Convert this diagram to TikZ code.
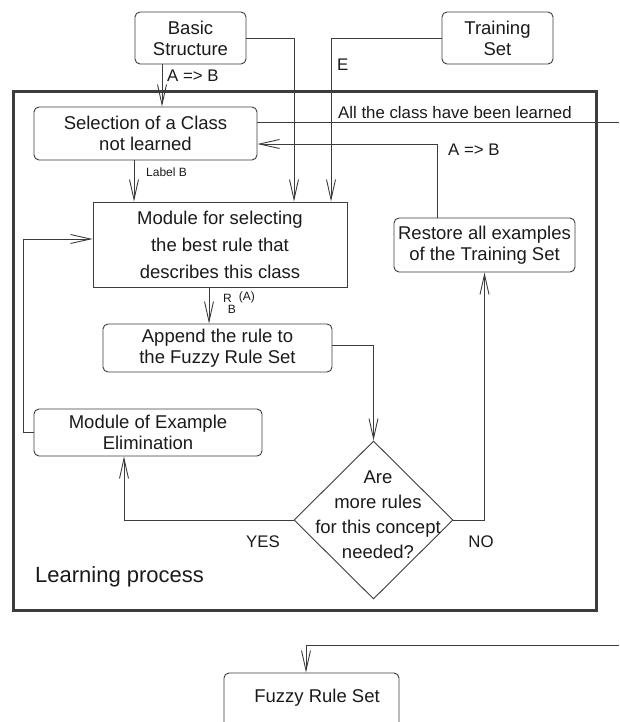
\documentclass[tikz,border=0pt]{standalone}
\usepackage{fontspec}
\setmainfont{Liberation Sans}
\usetikzlibrary{arrows.meta,shapes.geometric}
\definecolor{linec}{HTML}{3c3c3c}
\definecolor{txtc}{HTML}{1a1a1a}
\newcommand\boxfnt{\fontsize{18.5}{21}\selectfont}
\newcommand\lblfnt{\fontsize{16.8}{19}\selectfont}
\newcommand\smallfnt{\fontsize{12}{14}\selectfont}
\begin{document}
\begin{tikzpicture}[x=1pt,y=-1pt,
  box/.style={draw=linec, line width=0.9pt, rounded corners=5pt, align=center,
    inner sep=0pt, font=\boxfnt, text=txtc},
  ln/.style={draw=linec, line width=0.9pt},
  arr/.style={draw=linec, line width=0.9pt, -{Straight Barb[length=20pt,width=9pt]}},
  lbl/.style={font=\lblfnt, text=txtc, inner sep=0pt},
]
\useasboundingbox (0,0) rectangle (619,722);
\clip (0,0) rectangle (619,722);

% frame of the learning process
\node[draw=linec, line width=3pt, minimum width=583pt, minimum height=518pt, inner sep=0pt] (outer) at (304.5,351) {};

% boxes
\node[box, minimum width=111pt, minimum height=52pt] (bs) at (190.5,38) {Basic\\Structure};
\node[box, minimum width=111pt, minimum height=52pt] (ts) at (497.5,38) {Training\\Set};
\node[box, minimum width=223pt, minimum height=53pt] (sel) at (145.5,133.5) {Selection of a Class\\not learned};
\node[box, rounded corners=0pt, minimum width=254pt, minimum height=85pt,
  font=\fontsize{18.5}{27}\selectfont] (mod) at (220,244.5) {Module for selecting\\the best rule that\\describes this class};
\node[box, minimum width=181pt, minimum height=54pt] (rest) at (484.5,245) {Restore all examples\\of the Training Set};
\node[box, minimum width=229pt, minimum height=48pt] (app) at (217.5,348) {Append the rule to\\the Fuzzy Rule Set};
\node[box, minimum width=228pt, minimum height=47pt] (ex) at (148,432.5) {Module of Example\\Elimination};
\node[draw=linec, line width=0.9pt, diamond, minimum width=159pt, minimum height=158pt, inner sep=0pt] (dia) at (373.5,520) {};
\node[align=center, inner sep=0pt, text=txtc, font=\fontsize{18.5}{25}\selectfont] (diat) at (378,515) {Are\\more rules\\for this concept\\needed?};
\node[box, minimum width=175pt, minimum height=67pt] (fz) at (311.5,706.5) {};
\node[font=\boxfnt, text=txtc, inner sep=0pt] (fzt) at (317,698) {Fuzzy Rule Set};

% labels
\node[lbl, anchor=west] (l1) at (167,76) {A => B};
\node[lbl, anchor=west] (le) at (337,65) {E};
\node[lbl, anchor=west] (lall) at (338,112) {All the class have been learned};
\node[lbl, anchor=west] (l2) at (448,150) {A => B};
\node[font=\smallfnt, text=txtc, inner sep=0pt, anchor=west] (lb) at (146,172) {Label B};
\node[font=\smallfnt, text=txtc, inner sep=0pt, anchor=base west] (rba) at (223,302.5)
  {R\rlap{\raisebox{-11pt}{\kern-4pt B}}\kern7pt\raisebox{2pt}{(A)}};
\node[lbl, anchor=center] (lyes) at (263,542) {YES};
\node[lbl, anchor=center] (lno) at (481,542) {NO};
\node[font=\fontsize{22}{26}\selectfont, text=txtc, inner sep=0pt, anchor=west] (lp) at (35,577) {Learning process};

\coordinate (outR) at (619,122);
\coordinate (inR) at (619,645);

% connectors
\draw[arr] (162,0 |- bs.south) -- (162,0 |- sel.north);
\draw[arr] (bs.east) -| (mod.north -| 294,0);
\draw[arr] (ts.west) -| (mod.north -| 331,0);
\draw[arr] (134,0 |- sel.south) -- (134,0 |- mod.north);
\draw[ln] (sel.east |- outR) -- (outR);
\draw[arr] (437,0 |- rest.north) |- (sel.east |- 0,144);
\draw[arr] (209,0 |- mod.south) -- (209,0 |- app.north);
\draw[arr] (app.east |- 0,345) -| (dia.north);
\draw[arr] (dia.west) -| (124,0 |- ex.south);
\draw[arr] (dia.east) -| (rest.south);
\draw[arr] (ex.west) -| (23,239) -- (mod.west |- 0,239);
\draw[arr] (inR) -| (306,0 |- fz.north);
\end{tikzpicture}
\end{document}
